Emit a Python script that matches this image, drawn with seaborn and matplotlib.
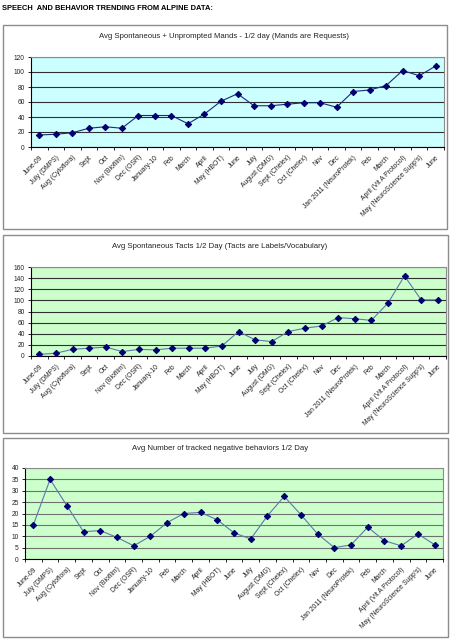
import matplotlib
matplotlib.use("Agg")
import matplotlib.pyplot as plt
from matplotlib.patches import Rectangle
from matplotlib.ticker import FixedLocator, MultipleLocator
import seaborn as sns
import pandas as pd
import numpy as np

months = ["June-09", "July (DMPS)", "Aug (Cytoflora)", "Sept", "Oct", "Nov (Biofilm)",
          "Dec (OSR)", "January-10", "Feb", "March", "April", "May (HBOT)", "June",
          "July", "August (DMG)", "Sept (Chelex)", "Oct (Chelex)", "Nov", "Dec",
          "Jan 2011 (NeuroProtek)", "Feb", "March", "April (Vit A Protocol)",
          "May (NeuroScience Supp's)", "June"]

mands = [16, 17, 19, 25, 27, 25, 42, 42, 42, 31, 44, 61, 71, 55, 55, 57, 59, 59, 53,
         74, 76, 82, 102, 95, 108]
tacts = [3, 5, 12, 14, 16, 8, 12, 11, 14, 14, 14, 18, 44, 29, 26, 44, 50, 54, 69,
         67, 64, 95, 144, 101, 101]
negatives = [15, 35, 23.5, 12, 12.5, 9.5, 5.8, 10, 16, 20, 20.5, 17.2, 11.5, 8.8, 19,
             27.5, 19.5, 11, 5, 6.2, 14, 8, 5.8, 11, 6.3]

main_title = "SPEECH  AND BEHAVIOR TRENDING FROM ALPINE DATA:"
titles = ["Avg Spontaneous + Unprompted Mands - 1/2 day (Mands are Requests)",
          "Avg Spontaneous Tacts 1/2 Day (Tacts are Labels/Vocabulary)",
          "Avg Number of tracked negative behaviors 1/2 Day"]

sns.set_style("white")
plt.rcParams['font.family'] = ['Liberation Sans', 'DejaVu Sans']

W, H = 451, 640
fig = plt.figure(figsize=(W / 100, H / 100), dpi=100)
fig.patch.set_facecolor("white")


def rect(x0, y0, x1, y1):
    return [x0 / W, 1 - y1 / H, (x1 - x0) / W, (y1 - y0) / H]


fig.text(2 / W, 1 - 9 / H, main_title, fontsize=5.4, fontweight="bold",
         ha="left", va="center", color="black")

panels = [
    dict(box=(3, 25, 447, 229), ax=(31, 57, 444, 147), title_y=37, title_x=224,
         data=mands, ymax=120, step=20, face="#CCFFFF", grid="#303030", line="#1a2a78"),
    dict(box=(3, 235, 448, 433), ax=(31, 267, 446, 356), title_y=247, title_x=220,
         data=tacts, ymax=160, step=20, face="#CCFFCC", grid="#303030", line="#5a7aa8"),
    dict(box=(3, 438, 448, 637), ax=(25, 468, 443, 559), title_y=449, title_x=220,
         data=negatives, ymax=40, step=5, face="#CCFFCC", grid="#707070", line="#5a7aa8"),
]

x = list(range(len(months)))

for i, p in enumerate(panels):
    bx0, by0, bx1, by1 = p["box"]
    fig.patches.append(Rectangle((bx0 / W, 1 - by1 / H), (bx1 - bx0) / W, (by1 - by0) / H,
                                 transform=fig.transFigure, facecolor="white",
                                 edgecolor="#8c8c8c", lw=1.0, zorder=-5))
    fig.text(p["title_x"] / W, 1 - p["title_y"] / H, titles[i], fontsize=5.6,
             ha="center", va="center", color="#222222")

    ax = fig.add_axes(rect(*p["ax"]))
    ax.set_zorder(2)
    df = pd.DataFrame({"x": x, "y": p["data"]})
    sns.lineplot(data=df, x="x", y="y", ax=ax, color=p["line"], lw=0.8,
                 marker="D", markersize=3.2, markerfacecolor="#000070",
                 markeredgecolor="#000070", zorder=5)
    ax.set_facecolor(p["face"])
    ax.set_xlim(-0.5, len(months) - 0.5)
    ax.set_ylim(0, p["ymax"])
    ax.yaxis.set_major_locator(MultipleLocator(p["step"]))
    ax.yaxis.grid(True, color=p["grid"], lw=0.8)
    ax.set_axisbelow(True)
    ax.set_xlabel("")
    ax.set_ylabel("")
    ax.set_xticks(x)
    ax.set_xticklabels(months, rotation=45, ha="right", rotation_mode="anchor",
                       fontsize=4.9, color="#222222")
    ax.xaxis.set_minor_locator(FixedLocator(np.arange(-0.5, len(months), 1.0)))
    ax.tick_params(axis="x", which="major", length=0, pad=5)
    ax.tick_params(axis="x", which="minor", length=2.5, width=0.6, color="black",
                   direction="out", bottom=True)
    ax.tick_params(axis="y", which="major", length=2.5, width=0.6, color="black",
                   direction="out", left=True, labelsize=4.8, pad=2, labelcolor="#222222")
    for side in ["top", "right"]:
        ax.spines[side].set_color("#8c8c8c")
        ax.spines[side].set_linewidth(0.8)
    for side in ["left", "bottom"]:
        ax.spines[side].set_color("black")
        ax.spines[side].set_linewidth(0.8)

fig.savefig("out.png", dpi=100, facecolor="white")
